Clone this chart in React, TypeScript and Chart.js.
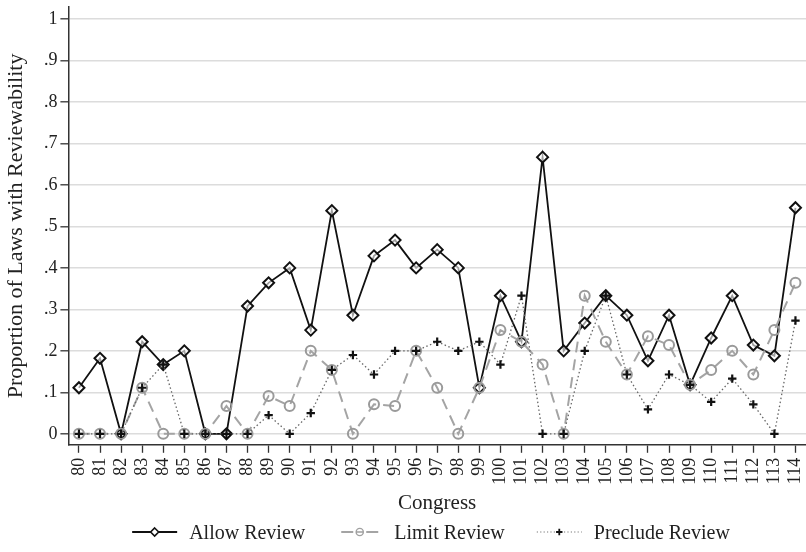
import React, { useEffect, useRef } from 'react';
import { Chart, registerables } from 'chart.js';

Chart.register(...registerables);

// ---- data ----
const congress = ['80', '81', '82', '83', '84', '85', '86', '87', '88', '89', '90', '91', '92', '93', '94', '95', '96', '97', '98', '99', '100', '101', '102', '103', '104', '105', '106', '107', '108', '109', '110', '111', '112', '113', '114'];

const allowReview = [0.111, 0.182, 0, 0.222, 0.167, 0.2, 0, 0, 0.308, 0.364, 0.4, 0.25, 0.538, 0.286, 0.429, 0.467, 0.4, 0.444, 0.4, 0.111, 0.333, 0.222, 0.667, 0.2, 0.267, 0.333, 0.286, 0.176, 0.286, 0.118, 0.231, 0.333, 0.214, 0.188, 0.545];

const limitReview = [0, 0, 0, 0.111, 0, 0, 0, 0.067, 0, 0.091, 0.067, 0.2, 0.154, 0, 0.071, 0.067, 0.2, 0.111, 0, 0.111, 0.25, 0.222, 0.167, 0, 0.333, 0.222, 0.143, 0.235, 0.214, 0.118, 0.154, 0.2, 0.143, 0.25, 0.364];

const precludeReview = [0, 0, 0, 0.111, 0.167, 0, 0, 0, 0, 0.045, 0, 0.05, 0.154, 0.19, 0.143, 0.2, 0.2, 0.222, 0.2, 0.222, 0.167, 0.333, 0, 0, 0.2, 0.333, 0.143, 0.059, 0.143, 0.118, 0.077, 0.133, 0.071, 0, 0.273];

const yTickValues = [0, 0.1, 0.2, 0.3, 0.4, 0.5, 0.6, 0.7, 0.8, 0.9, 1];
const yTickLabels = ['0', '.1', '.2', '.3', '.4', '.5', '.6', '.7', '.8', '.9', '1'];

const seriesNames = ['Allow Review', 'Limit Review', 'Preclude Review'];
const xTitle = 'Congress';
const yTitle = 'Proportion of Laws with Reviewability';

const FONT = '"Liberation Serif", "Times New Roman", Times, serif';

type Sample = {
  color: string;
  lineWidth: number;
  dash: number[];
  marker: 'diamond' | 'circle' | 'plus';
  markerColor: string;
  markerWidth: number;
};

const samples: Sample[] = [
  { color: '#111', lineWidth: 1.8, dash: [], marker: 'diamond', markerColor: '#111', markerWidth: 1.6 },
  { color: '#a4a4a4', lineWidth: 1.8, dash: [6, 5], marker: 'circle', markerColor: '#a0a0a0', markerWidth: 1.4 },
  { color: '#777', lineWidth: 1.1, dash: [1.2, 2.2], marker: 'plus', markerColor: '#111', markerWidth: 1.8 },
];

function drawMarker(ctx: CanvasRenderingContext2D, s: Sample, x: number, y: number) {
  ctx.save();
  ctx.setLineDash([]);
  ctx.strokeStyle = s.markerColor;
  ctx.lineWidth = s.markerWidth;
  ctx.beginPath();
  if (s.marker === 'diamond') {
    const r = 4;
    ctx.moveTo(x, y - r);
    ctx.lineTo(x + r, y);
    ctx.lineTo(x, y + r);
    ctx.lineTo(x - r, y);
    ctx.closePath();
    ctx.fillStyle = '#fff';
    ctx.fill();
  } else if (s.marker === 'circle') {
    ctx.arc(x, y, 3.6, 0, Math.PI * 2);
    ctx.moveTo(x - 3.6, y);
    ctx.lineTo(x + 3.6, y);
  } else {
    ctx.moveTo(x - 3.2, y);
    ctx.lineTo(x + 3.2, y);
    ctx.moveTo(x, y - 3.2);
    ctx.lineTo(x, y + 3.2);
  }
  ctx.stroke();
  ctx.restore();
}

const legendPlugin = {
  id: 'bottomLegend',
  afterDraw(chart: any) {
    const ctx: CanvasRenderingContext2D = chart.ctx;
    ctx.save();
    ctx.font = `20px ${FONT}`;
    const sampleW = 45;
    const gapText = 12;
    const gapItem = 32;
    const widths = seriesNames.map((n) => sampleW + gapText + ctx.measureText(n).width);
    const total = widths.reduce((a, b) => a + b, 0) + gapItem * (seriesNames.length - 1);
    let x = 431 - total / 2;
    const lineY = 532;
    const baseY = 539;
    seriesNames.forEach((name, i) => {
      const s = samples[i];
      ctx.save();
      ctx.strokeStyle = s.color;
      ctx.lineWidth = s.lineWidth;
      ctx.setLineDash(s.dash);
      ctx.beginPath();
      if (s.marker === 'circle') {
        ctx.moveTo(x + 4, lineY);
        ctx.lineTo(x + 16, lineY);
        ctx.moveTo(x + 29, lineY);
        ctx.lineTo(x + 41, lineY);
        ctx.setLineDash([]);
      } else {
        ctx.moveTo(x, lineY);
        ctx.lineTo(x + sampleW, lineY);
      }
      ctx.stroke();
      ctx.restore();
      drawMarker(ctx, s, x + sampleW / 2, lineY);
      ctx.fillStyle = '#222';
      ctx.textBaseline = 'alphabetic';
      ctx.textAlign = 'left';
      ctx.fillText(name, x + sampleW + gapText, baseY);
      x += widths[i] + gapItem;
    });
    ctx.restore();
  },
};

export default function App() {
  const canvasRef = useRef<HTMLCanvasElement | null>(null);

  useEffect(() => {
    document.body.style.margin = '0';
    const canvas = canvasRef.current;
    if (!canvas) return;
    Chart.defaults.font.family = FONT;
    Chart.defaults.color = '#222';

    const chart = new Chart(canvas, {
      type: 'line',
      data: {
        labels: congress,
        datasets: [
          {
            label: seriesNames[0],
            data: allowReview,
            borderColor: '#111',
            borderWidth: 1.8,
            pointStyle: 'rectRot',
            pointRadius: 5.5,
            pointBorderWidth: 2,
            pointBorderColor: '#111',
            pointBackgroundColor: 'rgba(255,255,255,0.6)',
            tension: 0,
            order: 2,
          },
          {
            label: seriesNames[1],
            data: limitReview,
            borderColor: '#a4a4a4',
            borderWidth: 2,
            borderDash: [11, 7],
            pointStyle: 'circle',
            pointRadius: 5,
            pointBorderWidth: 2,
            pointBorderColor: '#9a9a9a',
            pointBackgroundColor: 'rgba(255,255,255,0)',
            tension: 0,
            order: 1,
          },
          {
            label: seriesNames[2],
            data: precludeReview,
            borderColor: '#666',
            borderWidth: 1.3,
            borderDash: [1.5, 2.5],
            pointStyle: 'cross',
            pointRadius: 4.2,
            pointBorderWidth: 2.2,
            pointBorderColor: '#111',
            pointBackgroundColor: '#111',
            tension: 0,
            order: 0,
          },
        ],
      },
      options: {
        responsive: false,
        animation: false,
        layout: { autoPadding: false, padding: { top: 7, bottom: 32, right: 0, left: 0 } },
        plugins: {
          legend: { display: false },
          tooltip: { enabled: false },
        },
        scales: {
          x: {
            type: 'category',
            offset: true,
            afterFit: (scale: any) => {
              scale.paddingRight = 0;
              scale.paddingLeft = 0;
            },
            grid: {
              display: true,
              drawOnChartArea: false,
              drawTicks: true,
              tickLength: 8,
              tickColor: '#333',
              tickWidth: 1.3,
              offset: false,
            },
            border: { display: true, color: '#333', width: 1.5 },
            ticks: {
              autoSkip: false,
              maxRotation: 90,
              minRotation: 90,
              padding: 5,
              font: { size: 18 },
              color: '#222',
            },
            title: {
              display: true,
              text: xTitle,
              font: { size: 21 },
              color: '#222',
              padding: { top: 1, bottom: 4 },
            },
          },
          y: {
            type: 'linear',
            min: -0.0265,
            max: 1.029,
            afterFit: (scale: any) => {
              scale.paddingTop = 0;
              scale.paddingBottom = 0;
            },
            afterBuildTicks: (scale: any) => {
              scale.ticks = yTickValues.map((v) => ({ value: v }));
            },
            grid: {
              color: '#dcdcdc',
              lineWidth: 1.6,
              tickLength: 8,
              tickColor: '#333',
              tickWidth: 1.3,
            },
            border: { display: true, color: '#333', width: 1.5 },
            ticks: {
              padding: 3,
              font: { size: 18 },
              color: '#222',
              callback: (value: any) => {
                const idx = yTickValues.findIndex((v) => Math.abs(v - Number(value)) < 1e-6);
                return idx >= 0 ? yTickLabels[idx] : '';
              },
            },
            title: {
              display: true,
              text: yTitle,
              font: { size: 22 },
              color: '#222',
              padding: { top: 3, bottom: 11.5 },
            },
          },
        },
      },
      plugins: [legendPlugin],
    });

    return () => {
      chart.destroy();
    };
  }, []);

  return (
    <div style={{ width: 806, height: 552, background: '#fff' }}>
      <canvas ref={canvasRef} width={806} height={552} />
    </div>
  );
}
